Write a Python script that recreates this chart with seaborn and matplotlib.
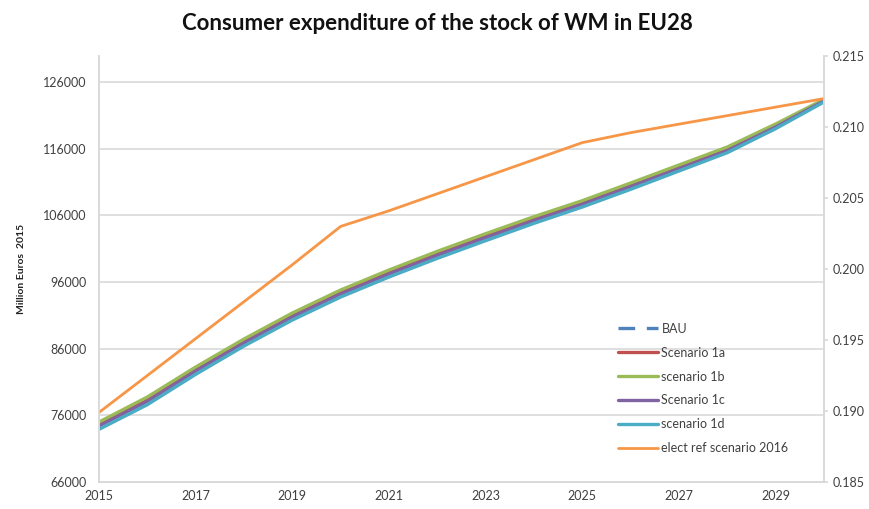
import pandas as pd
import matplotlib.pyplot as plt
import seaborn as sns

# values
years = list(range(2015, 2031))
bau = [74700, 78400, 82950, 87150, 91050, 94500, 97500, 100300,
       102950, 105500, 107900, 110550, 113250, 115950, 119450, 123250]
scen_1a = [74700, 78400, 82950, 87150, 91050, 94500, 97500, 100300,
           102950, 105500, 107900, 110550, 113250, 115950, 119450, 123250]
scen_1b = [75000, 78750, 83250, 87450, 91350, 94800, 97800, 100600,
           103250, 105800, 108200, 110850, 113550, 116250, 119700, 123400]
scen_1c = [74400, 78100, 82650, 86850, 90750, 94200, 97200, 100000,
           102650, 105200, 107650, 110300, 113000, 115700, 119250, 123150]
scen_1d = [73900, 77600, 82150, 86400, 90300, 93750, 96750, 99550,
           102200, 104800, 107250, 109900, 112650, 115400, 119000, 123000]
elect_ref = [0.1899, 0.1925, 0.1951, 0.1977, 0.2003, 0.2030, 0.2041, 0.2053,
             0.2065, 0.2077, 0.2089, 0.2096, 0.2102, 0.2108, 0.2114, 0.2120]

left_ticks = [66000, 76000, 86000, 96000, 106000, 116000, 126000]
right_ticks = [0.185, 0.190, 0.195, 0.200, 0.205, 0.210, 0.215]
x_ticks = [2015, 2017, 2019, 2021, 2023, 2025, 2027, 2029]

sns.set_theme(style='white')
plt.rcParams['font.family'] = ['Lato', 'DejaVu Sans']

df = pd.DataFrame({'year': years, 'BAU': bau, 'Scenario 1a': scen_1a,
                   'scenario 1b': scen_1b, 'Scenario 1c': scen_1c,
                   'scenario 1d': scen_1d, 'elect ref scenario 2016': elect_ref})

fig = plt.figure(figsize=(8.7, 5.09), dpi=100)
ax = fig.add_axes([0.1138, 0.053, 0.8333, 0.837])
ax2 = ax.twinx()

series = [('BAU', '#4F81BD', (0, (5, 3.5))),
          ('Scenario 1a', '#C0504D', '-'),
          ('scenario 1b', '#9BBB59', '-'),
          ('Scenario 1c', '#8064A2', '-'),
          ('scenario 1d', '#4BACC6', '-')]
for name, col, ls in series:
    sns.lineplot(data=df, x='year', y=name, ax=ax, color=col, linestyle=ls,
                 linewidth=2.4, label=name, legend=False)
sns.lineplot(data=df, x='year', y='elect ref scenario 2016', ax=ax2,
             color='#F79646', linewidth=2.0, label='elect ref scenario 2016', legend=False)

ax.set_xlim(2015, 2030)
ax.set_ylim(66000, 129900)
ax2.set_ylim(0.185, 0.215)
ax.set_xticks(x_ticks)
ax.set_yticks(left_ticks)
ax2.set_yticks(right_ticks)
ax2.set_yticklabels([f'{v:.3f}' for v in right_ticks])

ax.grid(axis='y', color='#D9D9D9', linewidth=1.2)
ax.grid(axis='x', visible=False)
ax2.grid(False)
for a in (ax, ax2):
    for s in a.spines.values():
        s.set_color('#D9D9D9')
        s.set_linewidth(1.2)
    a.spines['top'].set_visible(False)
ax.set_xlabel('')
ax.set_ylabel('Million Euros  2015', fontsize=7.5, fontweight='bold', color='#222222', labelpad=12)
ax2.set_ylabel('')
ax.tick_params(axis='y', length=0, labelsize=9, labelcolor='#404040', pad=9)
ax.tick_params(axis='x', length=0, labelsize=9, labelcolor='#404040', pad=6)
ax2.tick_params(axis='y', length=3, color='#D9D9D9', labelsize=9, labelcolor='#404040', pad=3)

fig.suptitle('Consumer expenditure of the stock of WM in EU28', x=0.503, y=0.975,
             fontsize=16, fontweight='bold', color='#111111')

h1, l1 = ax.get_legend_handles_labels()
h2, l2 = ax2.get_legend_handles_labels()
ax2.legend(h1 + h2, l1 + l2, loc='upper left', bbox_to_anchor=(0.7, 0.4), frameon=False,
           fontsize=9, handlelength=3.2, labelspacing=0.95, handletextpad=0.3,
           labelcolor='#404040')

plt.savefig('out.png', dpi=100)
plt.close()
